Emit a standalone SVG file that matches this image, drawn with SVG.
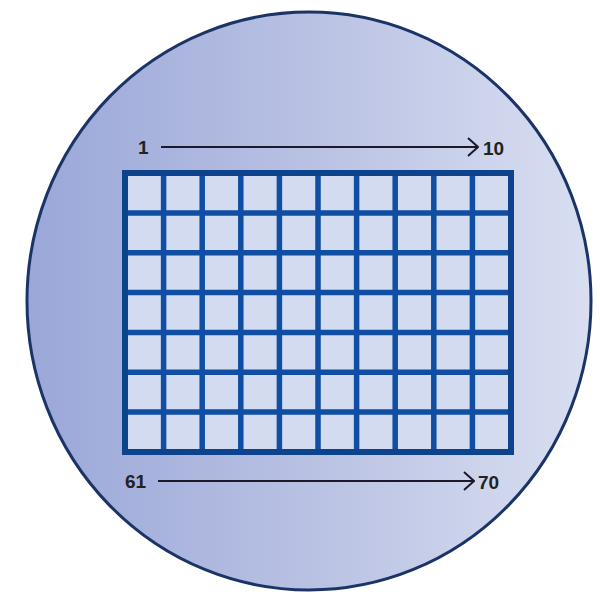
<svg xmlns="http://www.w3.org/2000/svg" width="600" height="597" viewBox="0 0 600 597">
  <defs>
    <linearGradient id="wafer" x1="0" y1="0" x2="1" y2="0">
      <stop offset="0" stop-color="#9aa7d8"/>
      <stop offset="0.5" stop-color="#b9c1e3"/>
      <stop offset="1" stop-color="#d9dff1"/>
    </linearGradient>
    <marker id="chev" viewBox="0 0 12 20" refX="11" refY="10" markerWidth="12" markerHeight="20" markerUnits="userSpaceOnUse" orient="auto">
      <path d="M1,1 L11,10 L1,19" fill="none" stroke="#1a1a2a" stroke-width="2"/>
    </marker>
    <style>
      .lbl { font-family: "Liberation Sans", Arial, sans-serif; font-weight: bold; font-size: 19px; fill: #222; }
      .grid { stroke: #0f4ea2; stroke-width: 5.5; fill: none; }
      .conn { stroke: #1a1a2a; stroke-width: 2; fill: none; marker-end: url(#chev); }
    </style>
  </defs>
  <rect width="600" height="597" fill="#ffffff"/>
  <g id="wafer-node">
    <ellipse cx="309" cy="301" rx="282" ry="289" fill="url(#wafer)" stroke="#1b3468" stroke-width="3"/>
  </g>
  <g id="grid-node">
    <rect x="125" y="173" width="386" height="279" fill="#d3dbf1"/>
    <path class="grid" d="M163.6,173V452M202.2,173V452M240.8,173V452M279.4,173V452M318,173V452M356.6,173V452M395.2,173V452M433.8,173V452M472.4,173V452M125,212.9H511M125,252.7H511M125,292.6H511M125,332.4H511M125,372.3H511M125,412.1H511"/>
    <rect x="125" y="173" width="386" height="279" fill="none" stroke="#0d438d" stroke-width="6"/>
  </g>
  <g id="labels">
    <text class="lbl" x="138" y="154">1</text>
    <text class="lbl" x="483" y="155">10</text>
    <text class="lbl" x="125" y="488">61</text>
    <text class="lbl" x="478" y="489">70</text>
  </g>
  <g id="connectors">
    <line class="conn" x1="161" y1="147" x2="478" y2="147"/>
    <line class="conn" x1="158" y1="481" x2="474" y2="481"/>
  </g>
</svg>
